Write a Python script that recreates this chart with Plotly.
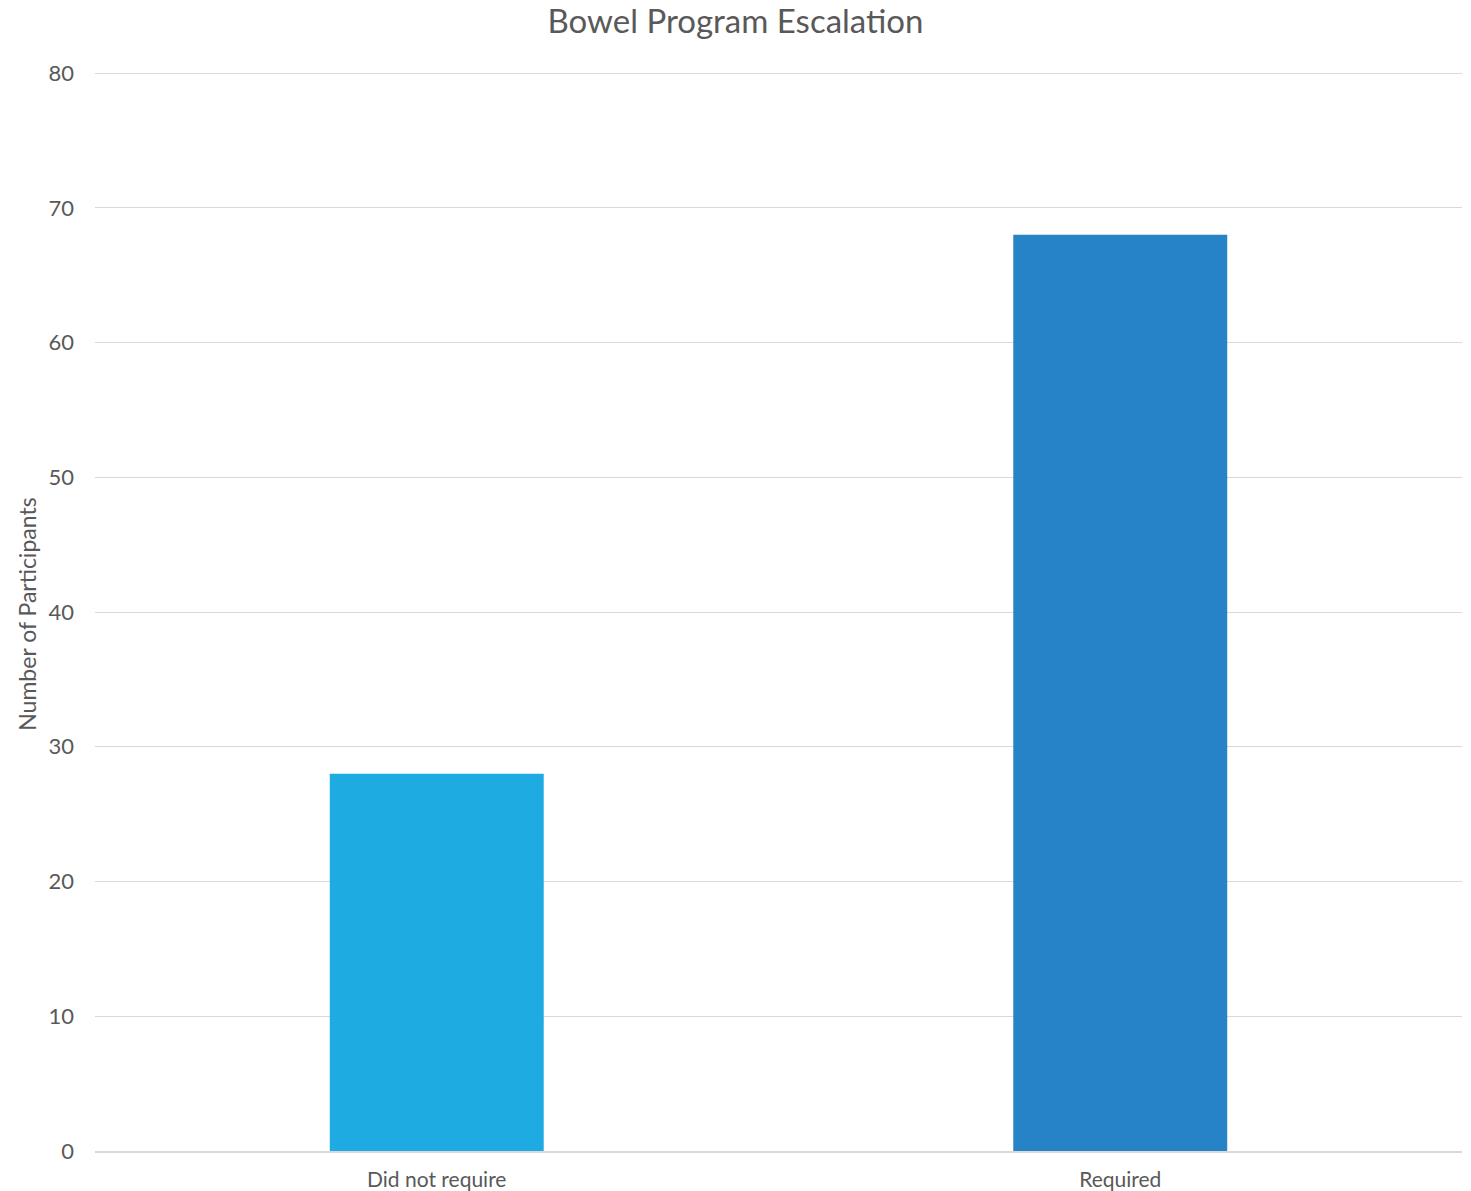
import plotly.graph_objects as go

categories = ["Did not require", "Required"]
participants = [28, 68]
bar_colors = ["#1DABE2", "#2683C6"]
y_ticks = [0, 10, 20, 30, 40, 50, 60, 70, 80]

FONT = "Century Gothic, Futura, Lato, sans-serif"
TXT = "#595959"

fig = go.Figure(
    go.Bar(
        x=categories,
        y=participants,
        marker=dict(color=bar_colors, line=dict(width=0)),
        hoverinfo="x+y",
    )
)

W, H = 1471, 1191
L, R, T, B = 95, 9, 72, 40
plot_w = W - L - R

fig.update_layout(
    width=W,
    height=H,
    margin=dict(l=L, r=R, t=T, b=B, autoexpand=False),
    paper_bgcolor="white",
    plot_bgcolor="white",
    bargap=0.687,
    showlegend=False,
    font=dict(family=FONT, color=TXT, size=20),
    title=dict(
        text="Bowel Program Escalation",
        x=0.5,
        xanchor="center",
        y=1 - 21 / H,
        yanchor="middle",
        font=dict(family=FONT, size=33, color=TXT),
    ),
    xaxis=dict(
        showgrid=False,
        showline=True,
        linecolor="#D9D9D9",
        linewidth=1.5,
        ticks="",
        ticklabelstandoff=9,
        tickfont=dict(size=21, color=TXT, family=FONT),
        automargin=False,
    ),
    yaxis=dict(
        range=[0, 80.08],
        tickvals=y_ticks,
        showgrid=True,
        gridcolor="#D9D9D9",
        gridwidth=1.3,
        zeroline=False,
        showline=False,
        ticks="",
        ticklabelstandoff=20,
        tickfont=dict(size=22, color=TXT, family=FONT),
        automargin=False,
    ),
    annotations=[
        dict(
            text="Number of Participants",
            xref="paper",
            yref="paper",
            x=-(L - 27) / plot_w,
            y=0.497,
            xanchor="center",
            yanchor="middle",
            textangle=-90,
            showarrow=False,
            font=dict(family=FONT, size=23, color=TXT),
        )
    ],
)

fig.write_html("out.html")
